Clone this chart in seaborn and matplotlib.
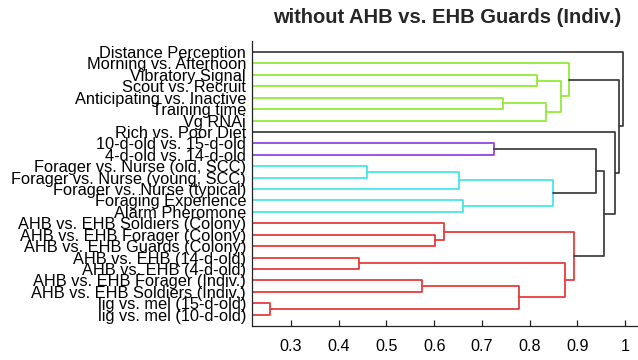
import numpy as np
import pandas as pd
import matplotlib
matplotlib.use("Agg")
import matplotlib.pyplot as plt
import seaborn as sns

# Leaf labels, listed top to bottom
labels = [
    "Distance Perception",
    "Morning vs. Afternoon",
    "Vibratory Signal",
    "Scout vs. Recruit",
    "Anticipating vs. Inactive",
    "Training time",
    "Vg RNAi",
    "Rich vs. Poor Diet",
    "10-d-old vs. 15-d-old",
    "4-d-old vs. 14-d-old",
    "Forager vs. Nurse (old, SCC)",
    "Forager vs. Nurse (young, SCC)",
    "Forager vs. Nurse (typical)",
    "Foraging Experience",
    "Alarm Pheromone",
    "AHB vs. EHB Soldiers (Colony)",
    "AHB vs. EHB Forager (Colony)",
    "AHB vs. EHB Guards (Colony)",
    "AHB vs. EHB (14-d-old)",
    "AHB vs. EHB (4-d-old)",
    "AHB vs. EHB Forager (Indiv.)",
    "AHB vs. EHB Soldiers (Indiv.)",
    "lig vs. mel (15-d-old)",
    "lig vs. mel (10-d-old)",
]

# Linkage: merge i creates cluster id len(labels) + i
merge_left = [22, 18, 10, 20, 16, 15, 26, 13, 8, 4, 27, 2, 33, 30, 35, 25, 1, 29, 32, 42, 7, 40, 0]
merge_right = [23, 19, 11, 21, 17, 28, 12, 14, 9, 5, 24, 3, 6, 31, 36, 34, 38, 39, 37, 41, 43, 44, 45]
merge_height = [0.257, 0.442, 0.459, 0.574, 0.602, 0.621, 0.653, 0.661, 0.726, 0.744,
                0.778, 0.816, 0.834, 0.848, 0.866, 0.874, 0.883, 0.892, 0.940, 0.955,
                0.979, 0.988, 0.996]
merge_group = ["red", "red", "cyan", "red", "red", "red", "cyan", "cyan", "purple", "green",
               "red", "green", "green", "cyan", "green", "red", "green", "red",
               "above", "above", "above", "above", "above"]

x_ticks = [0.3, 0.4, 0.5, 0.6, 0.7, 0.8, 0.9, 1.0]
x_ticklabels = ["0.3", "0.4", "0.5", "0.6", "0.7", "0.8", "0.9", "1"]

palette = {"green": "#8fea34", "purple": "#8a40e0", "cyan": "#3fe6e6",
           "red": "#e83434", "above": "#3a3a3a"}

# Node positions: leaves at integer rows (top leaf highest), leaves sit at x = 0
n = len(labels)
node_y = {i: float(n - i) for i in range(n)}
node_x = {i: 0.0 for i in range(n)}
rows = []
for k, (a, b, h, g) in enumerate(zip(merge_left, merge_right, merge_height, merge_group)):
    nid = n + k
    node_y[nid] = (node_y[a] + node_y[b]) / 2
    node_x[nid] = h
    pts = [(node_x[a], node_y[a]), (h, node_y[a]), (h, node_y[b]), (node_x[b], node_y[b])]
    for order, (px, py) in enumerate(pts):
        rows.append({"link": k, "order": order, "x": px, "y": py, "group": g})
links = pd.DataFrame(rows)

sns.set_theme(style="ticks")
plt.rcParams["font.family"] = ["Liberation Sans", "DejaVu Sans"]

fig = plt.figure(figsize=(6.38, 3.6), dpi=100)
ax = fig.add_axes([0.3955, 0.0944, 0.612, 0.7928])

sns.lineplot(data=links, x="x", y="y", units="link", hue="group", palette=palette,
             estimator=None, sort=False, legend=False, linewidth=1.25, ax=ax)

ax.set_xlim(0.219, 1.037)
ax.set_ylim(0, n + 1)
ax.set_xticks(x_ticks)
ax.set_xticklabels(x_ticklabels, fontsize=11.6)
ax.set_yticks([node_y[i] for i in range(n)])
ax.set_yticklabels(labels, fontsize=11.8)
ax.tick_params(axis="x", direction="in", length=4, width=0.9, pad=9.5, colors="#222222",
               labelcolor="black")
ax.tick_params(axis="y", length=0, pad=4.5, labelcolor="black")
ax.set_xlabel("")
ax.set_ylabel("")
for side in ("top", "right"):
    ax.spines[side].set_visible(False)
for side in ("left", "bottom"):
    ax.spines[side].set_color("#222222")
    ax.spines[side].set_linewidth(0.9)

ax.set_title("without AHB vs. EHB Guards (Indiv.)", fontsize=14.5, fontweight="bold", pad=12.5)

fig.savefig("out.png", dpi=100)
